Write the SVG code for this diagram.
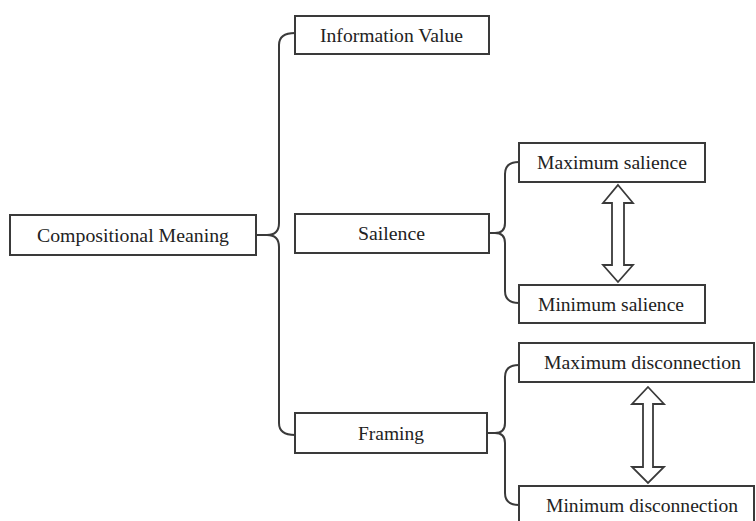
<svg xmlns="http://www.w3.org/2000/svg" width="756" height="521" viewBox="0 0 756 521">
  <style>
    .box { fill: #ffffff; stroke: #3a3a3a; stroke-width: 2; }
    .lbl { font-family: "Liberation Serif", "Times New Roman", serif; font-size: 19px; fill: #222222; text-anchor: middle; }
    .brace { fill: none; stroke: #3a3a3a; stroke-width: 2; }
    .dbl { fill: #ffffff; stroke: #3a3a3a; stroke-width: 1.8; stroke-linejoin: miter; }
  </style>
  <rect width="756" height="521" fill="#ffffff"/>

  <!-- connectors: curly braces and double-headed arrows -->
  <g id="connectors">
    <path class="brace" d="M256,235 L267,235 Q279,235 279,223 L279,45 Q279,33 295,33 M267,235 Q279,235 279,247 L279,423 Q279,435 295,435"/>
    <path class="brace" d="M489,233 L495,233 Q505,233 505,223 L505,174 Q505,162 519,162 M495,233 Q505,233 505,243 L505,291 Q505,303 519,303"/>
    <path class="brace" d="M487,433 L495,433 Q505,433 505,423 L505,377 Q505,365 519,365 M495,433 Q505,433 505,443 L505,493 Q505,505 519,505"/>
    <path class="dbl" d="M618,185 L633,203 L624,203 L624,265 L633,265 L618,282 L603,265 L612,265 L612,203 L603,203 Z"/>
    <path class="dbl" d="M648,387 L664,404 L653,404 L653,467 L664,467 L648,483 L632,467 L643,467 L643,404 L632,404 Z"/>
  </g>

  <g id="compositional-meaning">
    <rect class="box" x="10" y="215" width="246" height="40"/>
    <text class="lbl" x="133" y="242" textLength="192" lengthAdjust="spacingAndGlyphs">Compositional Meaning</text>
  </g>
  <g id="information-value">
    <rect class="box" x="295" y="16" width="194" height="38"/>
    <text class="lbl" x="391.5" y="42" textLength="143" lengthAdjust="spacingAndGlyphs">Information Value</text>
  </g>
  <g id="sailence">
    <rect class="box" x="295" y="214" width="194" height="39"/>
    <text class="lbl" x="391.5" y="240" textLength="67" lengthAdjust="spacingAndGlyphs">Sailence</text>
  </g>
  <g id="framing">
    <rect class="box" x="295" y="413" width="192" height="40"/>
    <text class="lbl" x="391" y="440" textLength="66" lengthAdjust="spacingAndGlyphs">Framing</text>
  </g>
  <g id="maximum-salience">
    <rect class="box" x="519" y="143" width="186" height="39"/>
    <text class="lbl" x="612" y="169" textLength="150" lengthAdjust="spacingAndGlyphs">Maximum salience</text>
  </g>
  <g id="minimum-salience">
    <rect class="box" x="519" y="285" width="186" height="38"/>
    <text class="lbl" x="611" y="311" textLength="146" lengthAdjust="spacingAndGlyphs">Minimum salience</text>
  </g>
  <g id="maximum-disconnection">
    <rect class="box" x="519" y="343" width="235" height="39"/>
    <text class="lbl" x="642.5" y="369" textLength="197" lengthAdjust="spacingAndGlyphs">Maximum disconnection</text>
  </g>
  <g id="minimum-disconnection">
    <rect class="box" x="519" y="486" width="235" height="40"/>
    <text class="lbl" x="642" y="512" textLength="192" lengthAdjust="spacingAndGlyphs">Minimum disconnection</text>
  </g>
</svg>
